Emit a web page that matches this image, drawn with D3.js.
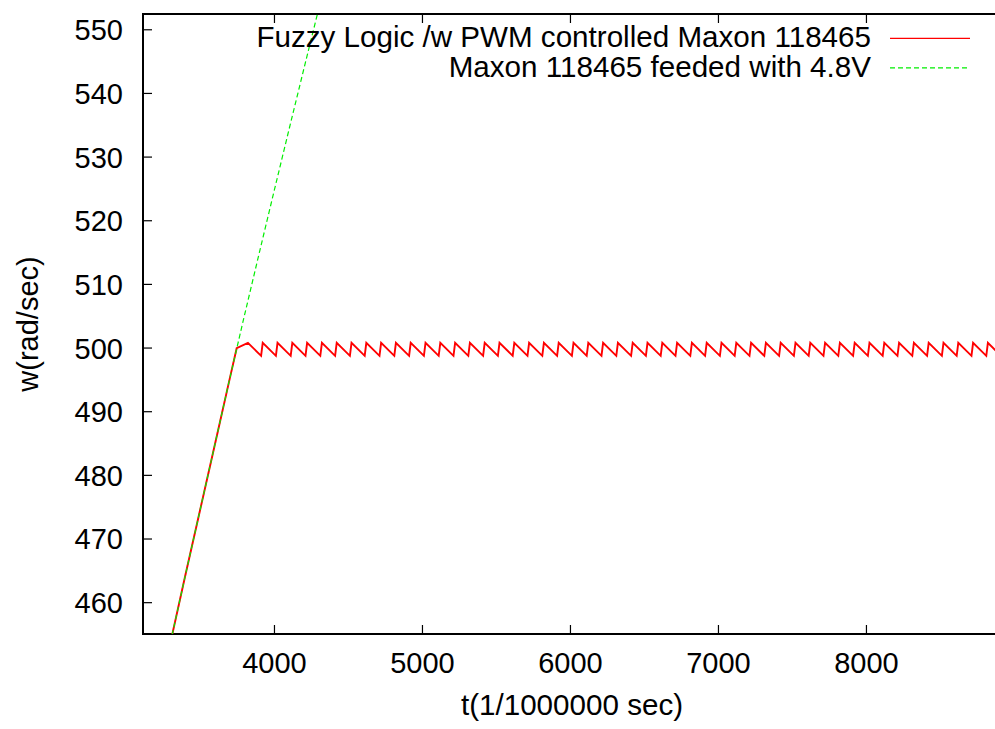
<!DOCTYPE html>
<html>
<head>
<meta charset="utf-8">
<script src="https://cdn.jsdelivr.net/npm/d3@7"></script>
<style>
  body { margin: 0; background: #fff; }
  svg { display: block; font-family: "Liberation Sans", Arial, sans-serif; }
</style>
</head>
<body>
<svg id="chart" width="995" height="729"></svg>
<script>
// Axis settings
const xTicks = [4000, 5000, 6000, 7000, 8000];
const yTicks = [460, 470, 480, 490, 500, 510, 520, 530, 540, 550];
const xDomain = [3115, 8872];
const yDomain = [455, 552.4];
const xLabel = "t(1/1000000 sec)";
const yLabel = "w(rad/sec)";
const seriesNames = ["Fuzzy Logic /w PWM controlled Maxon 118465", "Maxon 118465 feeded with 4.8V"];

// Open-loop motor fed with 4.8V
const openT = [3300, 3400, 3500, 3600, 3700, 3800, 3900, 4000, 4100, 4200, 4300];
const openW = [453.6, 464.1, 474.4, 484.7, 495.0, 505.0, 514.8, 524.5, 534.1, 543.6, 553.0];

// Fuzzy PWM controlled motor: spin-up, then regulation ripple around 500 rad/s
const fuzzyT = [
  3300, 3400, 3500, 3600, 3700, 3748,
  3824, 3913, 3924, 4013, 4024, 4113, 4124, 4213, 4224, 4313, 4324, 4413, 4424, 4513,
  4524, 4613, 4624, 4713, 4724, 4813, 4824, 4913, 4924, 5013, 5024, 5113, 5124, 5213,
  5224, 5313, 5324, 5413, 5424, 5513, 5524, 5613, 5624, 5713, 5724, 5813, 5824, 5913,
  5924, 6013, 6024, 6113, 6124, 6213, 6224, 6313, 6324, 6413, 6424, 6513, 6524, 6613,
  6624, 6713, 6724, 6813, 6824, 6913, 6924, 7013, 7024, 7113, 7124, 7213, 7224, 7313,
  7324, 7413, 7424, 7513, 7524, 7613, 7624, 7713, 7724, 7813, 7824, 7913, 7924, 8013,
  8024, 8113, 8124, 8213, 8224, 8313, 8324, 8413, 8424, 8513, 8524, 8613, 8624, 8713,
  8724, 8813, 8824, 8913
];
const fuzzyW = [
  453.6, 464.1, 474.4, 484.7, 495.0, 499.9,
  500.75, 498.7, 500.75, 498.7, 500.75, 498.7, 500.75, 498.7, 500.75, 498.7, 500.75, 498.7, 500.75, 498.7,
  500.75, 498.7, 500.75, 498.7, 500.75, 498.7, 500.75, 498.7, 500.75, 498.7, 500.75, 498.7, 500.75, 498.7,
  500.75, 498.7, 500.75, 498.7, 500.75, 498.7, 500.75, 498.7, 500.75, 498.7, 500.75, 498.7, 500.75, 498.7,
  500.75, 498.7, 500.75, 498.7, 500.75, 498.7, 500.75, 498.7, 500.75, 498.7, 500.75, 498.7, 500.75, 498.7,
  500.75, 498.7, 500.75, 498.7, 500.75, 498.7, 500.75, 498.7, 500.75, 498.7, 500.75, 498.7, 500.75, 498.7,
  500.75, 498.7, 500.75, 498.7, 500.75, 498.7, 500.75, 498.7, 500.75, 498.7, 500.75, 498.7, 500.75, 498.7,
  500.75, 498.7, 500.75, 498.7, 500.75, 498.7, 500.75, 498.7, 500.75, 498.7, 500.75, 498.7, 500.75, 498.7,
  500.75, 498.7, 500.75, 498.7
];

const colors = ["#ff0000", "#00ee00"];

const svg = d3.select("#chart");
const plot = { left: 143, top: 14, right: 995, bottom: 634 };
const fontSize = 29;
const legendFontSize = 29.6;

const x = d3.scaleLinear().domain(xDomain).range([plot.left, plot.right]);
const y = d3.scaleLinear().domain(yDomain).range([plot.bottom, plot.top]);

svg.append("defs").append("clipPath").attr("id", "plotClip")
  .append("rect")
  .attr("x", plot.left).attr("y", plot.top)
  .attr("width", plot.right - plot.left).attr("height", plot.bottom - plot.top);

// Axes with inward ticks
const tickLen = 9;
const gx = svg.append("g").attr("transform", `translate(0,${plot.bottom})`)
  .call(d3.axisBottom(x).tickValues(xTicks).tickSize(-tickLen).tickFormat(d3.format("d")));
const gxTop = svg.append("g").attr("transform", `translate(0,${plot.top})`)
  .call(d3.axisTop(x).tickValues(xTicks).tickSize(-tickLen).tickFormat(""));
const gy = svg.append("g").attr("transform", `translate(${plot.left},0)`)
  .call(d3.axisLeft(y).tickValues(yTicks).tickSize(-tickLen).tickFormat(d3.format("d")));

[gx, gxTop, gy].forEach(g => {
  g.select(".domain").remove();
  g.selectAll(".tick line").attr("stroke", "#000").attr("stroke-width", 1.2);
  g.selectAll("text").attr("font-size", fontSize).attr("fill", "#000")
    .attr("font-family", "Liberation Sans, Arial, sans-serif");
});
gx.selectAll("text").attr("y", 39).attr("dy", 0);
gy.selectAll("text").attr("x", -20).attr("dy", "0.36em");

// Frame (top, left, bottom)
svg.append("path")
  .attr("d", `M${plot.right},${plot.top}H${plot.left}V${plot.bottom}H${plot.right}`)
  .attr("fill", "none").attr("stroke", "#000").attr("stroke-width", 2);

// Axis titles
svg.append("text")
  .attr("x", 572).attr("y", 715)
  .attr("text-anchor", "middle").attr("font-size", legendFontSize)
  .text(xLabel);
svg.append("text")
  .attr("transform", `translate(38,${(plot.top + plot.bottom) / 2}) rotate(-90)`)
  .attr("text-anchor", "middle").attr("font-size", fontSize)
  .text(yLabel);

// Series
const line = d3.line().x(d => x(d[0])).y(d => y(d[1]));
const fuzzy = fuzzyT.map((t, i) => [t, fuzzyW[i]]);
const open = openT.map((t, i) => [t, openW[i]]);

const lines = svg.append("g").attr("clip-path", "url(#plotClip)");
lines.append("path").datum(fuzzy)
  .attr("d", line).attr("fill", "none")
  .attr("stroke", colors[0]).attr("stroke-width", 1.9).attr("stroke-linejoin", "miter");
lines.append("path").datum(open)
  .attr("d", line).attr("fill", "none")
  .attr("stroke", colors[1]).attr("stroke-width", 1.2).attr("stroke-dasharray", "5,3");

// Legend
const legend = svg.append("g");
const legendRows = [47, 76.5];
seriesNames.forEach((name, i) => {
  legend.append("text")
    .attr("x", 871).attr("y", legendRows[i])
    .attr("text-anchor", "end").attr("font-size", legendFontSize)
    .text(name);
  legend.append("line")
    .attr("x1", 890).attr("x2", 970)
    .attr("y1", legendRows[i] - 8.7).attr("y2", legendRows[i] - 8.7)
    .attr("stroke", colors[i]).attr("stroke-width", 1.2)
    .attr("stroke-dasharray", i === 1 ? "5,3" : null);
});
</script>
</body>
</html>
